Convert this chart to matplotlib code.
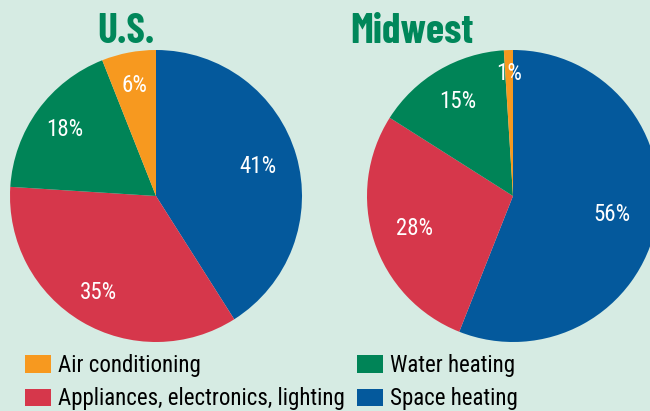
import numpy as np
import matplotlib.pyplot as plt
from matplotlib.patches import Patch

plt.rcParams['font.family'] = ['Roboto Condensed', 'Liberation Sans', 'DejaVu Sans']

# data
categories = ['Space heating', 'Appliances, electronics, lighting', 'Water heating', 'Air conditioning']
us_values = [41, 35, 18, 6]
mw_values = [56, 28, 15, 1]
colors = ['#04599c', '#d6374b', '#008457', '#f7991f']
bg = '#d6ebe3'

fig = plt.figure(figsize=(6.5, 4.11), dpi=100, facecolor=bg)
W, H = 650, 411


def draw_pie(cx, cy, r, values, dists, title, tx):
    ax = fig.add_axes([(cx - r) / W, (H - cy - r) / H, 2 * r / W, 2 * r / H])
    wedges, _ = ax.pie(values, colors=colors, startangle=90, counterclock=False,
                       wedgeprops=dict(linewidth=0))
    ax.set_xlim(-1, 1)
    ax.set_ylim(-1, 1)
    ax.set_aspect('equal')
    ax.axis('off')
    # percent labels at the middle of each wedge
    for w, v, d in zip(wedges, values, dists):
        ang = np.deg2rad((w.theta1 + w.theta2) / 2)
        ax.text(d * np.cos(ang), d * np.sin(ang), f'{v}%', color='white',
                fontsize=16.5, ha='center', va='center')
    fig.text(tx / W, 1 - 43 / H, title, color='#00875a', fontsize=30,
             fontweight='bold', ha='center', va='baseline',
             family=['Barlow Condensed', 'Roboto Condensed', 'DejaVu Sans'])


draw_pie(156, 196, 146, us_values, [0.73, 0.77, 0.77, 0.77], 'U.S.', 126)
draw_pie(513, 196, 146, mw_values, [0.69, 0.71, 0.75, 0.84], 'Midwest', 412)

# legend: column-wise order
order = [3, 1, 2, 0]
handles = [Patch(facecolor=colors[i], edgecolor='none') for i in order]
labels = [categories[i] for i in order]
fig.legend(handles, labels, ncol=2, frameon=False, fontsize=16.5,
           loc='upper left', bbox_to_anchor=(25 / W, 1 - 354 / H),
           borderpad=0, borderaxespad=0, handlelength=1.15, handleheight=0.8,
           handletextpad=0.3, columnspacing=0.5, labelspacing=0.45)

fig.savefig('out.png', dpi=100, facecolor=bg)
